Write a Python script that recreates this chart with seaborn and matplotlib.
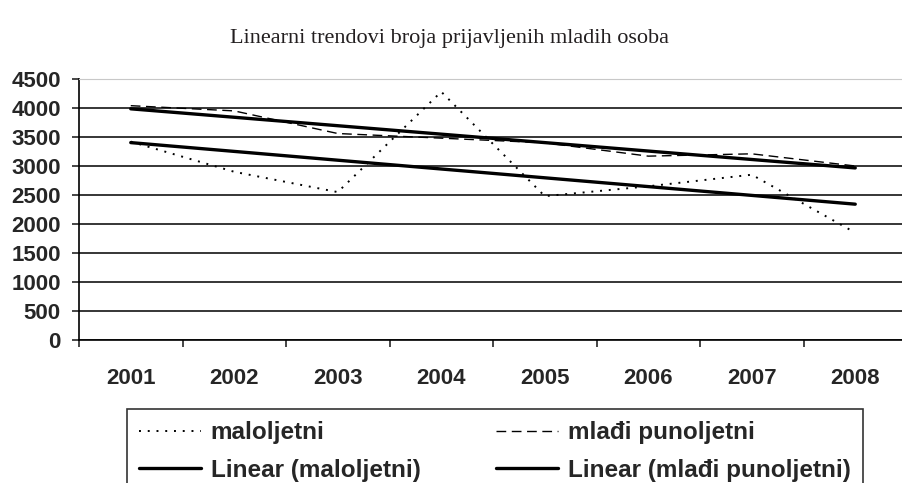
import matplotlib
matplotlib.use("Agg")
import matplotlib.pyplot as plt
import seaborn as sns
import numpy as np
import pandas as pd

years = ["2001", "2002", "2003", "2004", "2005", "2006", "2007", "2008"]
maloljetni = [3420, 2900, 2550, 4280, 2480, 2650, 2850, 1850]
mladi_punoljetni = [4040, 3950, 3560, 3480, 3400, 3170, 3210, 3000]
y_ticks = [0, 500, 1000, 1500, 2000, 2500, 3000, 3500, 4000, 4500]

sns.set_style("white")
plt.rcParams['font.family'] = ['Liberation Sans', 'DejaVu Sans']

df = pd.DataFrame({"x": np.arange(len(years)),
                   "maloljetni": maloljetni,
                   "mladi": mladi_punoljetni})

# linear trend lines (least squares, like Excel)
for col in ["maloljetni", "mladi"]:
    k, b = np.polyfit(df["x"] + 1, df[col], 1)
    df["trend_" + col] = k * (df["x"] + 1) + b

fig = plt.figure(figsize=(9.02, 4.83), dpi=100)
ax = fig.add_axes([79 / 902, 1 - 340 / 483, (907 - 79) / 902, (340 - 79) / 483])

sns.lineplot(data=df, x="x", y="maloljetni", ax=ax, color="black",
             lw=1.4, linestyle=(0, (1, 3.5)), label="maloljetni")
sns.lineplot(data=df, x="x", y="trend_maloljetni", ax=ax, color="black",
             lw=2.4, label="Linear (maloljetni)")
sns.lineplot(data=df, x="x", y="mladi", ax=ax, color="black",
             lw=1.0, linestyle=(0, (7, 4)), label="mlađi punoljetni")
sns.lineplot(data=df, x="x", y="trend_mladi", ax=ax, color="black",
             lw=2.4, label="Linear (mlađi punoljetni)")

ax.set_xlim(-0.5, len(years) - 0.5)
ax.set_ylim(0, 4500)
ax.set_yticks(y_ticks)
ax.set_xticks(np.arange(len(years)))
ax.set_xticklabels(years)
ax.set_xticks(np.arange(len(years) + 1) - 0.5, minor=True)
ax.set_xlabel("")
ax.set_ylabel("")

ax.yaxis.grid(True, color="black", lw=1.1)
ax.get_ygridlines()[-1].set_color("#c8c8c8")
ax.set_axisbelow(True)

for s in ["left", "bottom"]:
    ax.spines[s].set_color("black")
    ax.spines[s].set_linewidth(1.2)
ax.spines["top"].set_color("#c8c8c8")
ax.spines["right"].set_visible(False)

ax.tick_params(axis="y", which="major", left=True, length=5, width=1.2,
               direction="out", pad=8, labelsize=16)
ax.tick_params(axis="x", which="major", bottom=False, length=0, pad=20,
               labelsize=16)
ax.tick_params(axis="x", which="minor", bottom=True, length=5, width=1.2,
               direction="out")
for lab in ax.get_xticklabels() + ax.get_yticklabels():
    lab.set_fontweight("bold")

fig.text(450 / 902, 1 - 38 / 483, "Linearni trendovi broja prijavljenih mladih osoba",
         ha="center", va="center", fontsize=16, family="Liberation Serif",
         color="#231f20")

h, l = ax.get_legend_handles_labels()
ax.get_legend().remove()
leg = fig.legend(h, l, ncol=2, loc="upper left",
                 bbox_to_anchor=(127 / 902, 1 - 409 / 483),
                 prop={"weight": "bold", "size": 17.5},
                 frameon=True, fancybox=False, edgecolor="black",
                 handlelength=2.55, handletextpad=0.4, columnspacing=3.1,
                 labelspacing=0.6, borderpad=0.5, borderaxespad=0)
leg.get_frame().set_linewidth(1.2)

fig.savefig("out.png", dpi=100)
